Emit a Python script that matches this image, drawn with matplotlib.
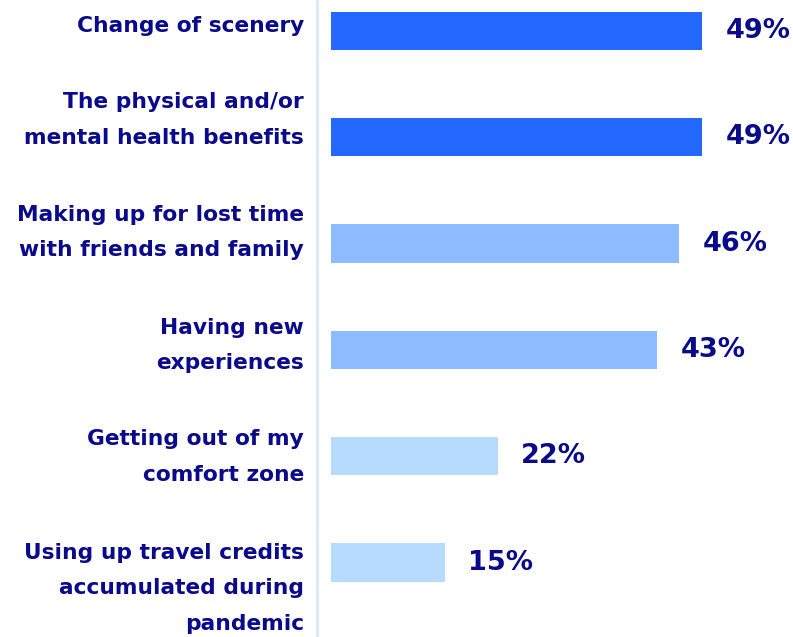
import matplotlib
matplotlib.use("Agg")
import matplotlib.pyplot as plt
from matplotlib.transforms import ScaledTranslation

categories = [
    "Change of scenery",
    "The physical and/or\nmental health benefits",
    "Making up for lost time\nwith friends and family",
    "Having new\nexperiences",
    "Getting out of my\ncomfort zone",
    "Using up travel credits\naccumulated during\npandemic",
]
values = [49, 49, 46, 43, 22, 15]
colors = ["#2468FF", "#2468FF", "#8CBCFF", "#8CBCFF", "#B7DAFF", "#B7DAFF"]
text_color = "#0A0A8C"
# vertical nudges (pixels, + = down) of the category labels relative to bar centres
label_nudge_px = [-7, -27, -21, -14, -9, 16]

fig = plt.figure(figsize=(7.93, 6.37), dpi=100)
ax = fig.add_axes([317 / 793, 0, 1 - 317 / 793, 1])

ypos = list(range(len(categories)))
ax.barh(ypos, values, height=0.36, color=colors)
ax.set_xlim(-1.85, 61)
ax.set_ylim(5.70, -0.29)

ax.set_yticks(ypos)
ax.set_yticklabels(categories, fontsize=15.7, fontweight="bold", color=text_color,
                   fontfamily="DejaVu Sans", linespacing=1.97)
ax.tick_params(axis="y", length=0, pad=9.5)
ax.tick_params(axis="x", bottom=False, labelbottom=False)
for lab, d in zip(ax.get_yticklabels(), label_nudge_px):
    lab.set_transform(lab.get_transform() + ScaledTranslation(0, -d / 100, fig.dpi_scale_trans))

for y, v in zip(ypos, values):
    ax.annotate(f"{v}%", xy=(v, y), xytext=(17, 0), textcoords="offset points",
                va="center", ha="left", fontsize=19.5, fontweight="bold",
                color=text_color, fontfamily="DejaVu Sans")

for s in ["top", "right", "bottom"]:
    ax.spines[s].set_visible(False)
ax.spines["left"].set_color("#DCE8F8")
ax.spines["left"].set_linewidth(2)

fig.savefig("out.png", dpi=100)
